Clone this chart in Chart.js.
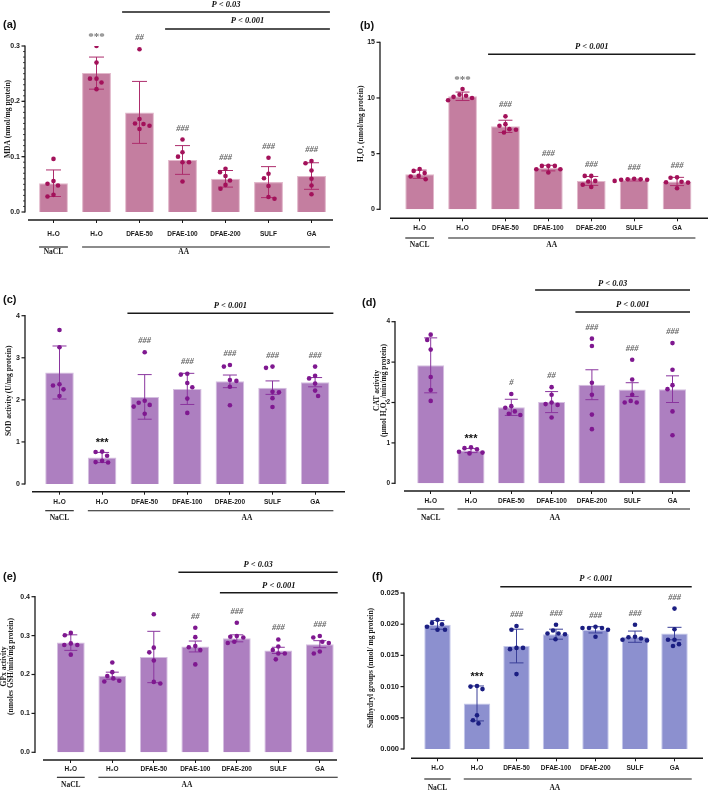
<!DOCTYPE html>
<html>
<head>
<meta charset="utf-8">
<script src="https://cdn.jsdelivr.net/npm/chart.js@4.4.0/dist/chart.umd.min.js"></script>
<style>
  html, body { margin: 0; padding: 0; background: #fff; }
  #fig { position: relative; width: 709px; height: 792px; }
  .panel { position: absolute; }
</style>
</head>
<body>
<div id="fig"></div>
<script>
// groups: NaCl + water, then AA-treated groups
const categories = ['H₂O', 'H₂O', 'DFAE-50', 'DFAE-100', 'DFAE-200', 'SULF', 'GA'];

// (a) MDA
const mdaTicks = [0, 0.1, 0.2, 0.3];
const mdaMean = [0.052, 0.251, 0.180, 0.094, 0.060, 0.054, 0.065];
const mdaSd = [0.024, 0.029, 0.056, 0.026, 0.015, 0.028, 0.024];
const mdaDots = [
  [0.056, 0.031, 0.051, 0.028, 0.048, 0.096],
  [0.300, 0.270, 0.241, 0.241, 0.234, 0.222],
  [0.294, 0.159, 0.168, 0.156, 0.160, 0.150],
  [0.131, 0.108, 0.100, 0.090, 0.090, 0.055],
  [0.078, 0.072, 0.065, 0.057, 0.049, 0.042],
  [0.098, 0.069, 0.061, 0.047, 0.027, 0.024],
  [0.092, 0.088, 0.075, 0.060, 0.048, 0.032]
];
const mdaSig = ['', '***', '##', '###', '###', '###', '###'];

// (b) H2O2
const h2o2Ticks = [0, 5, 10, 15];
const h2o2Mean = [3.15, 10.15, 7.45, 3.7, 2.55, 2.63, 2.5];
const h2o2Sd = [0.37, 0.38, 0.55, 0.25, 0.4, 0.08, 0.37];
const h2o2Dots = [
  [3.45, 3.0, 3.25, 2.95, 3.62, 2.7],
  [10.2, 10.1, 10.8, 10.3, 9.8, 10.0],
  [7.2, 7.15, 8.35, 7.5, 7.65, 6.9],
  [3.9, 3.9, 3.6, 3.9, 3.6, 3.3],
  [2.5, 3.0, 2.2, 3.0, 2.55, 2.0],
  [2.65, 2.65, 2.7, 2.7, 2.75, 2.55],
  [2.84, 2.87, 2.48, 2.43, 2.4, 1.89]
];
const h2o2Sig = ['', '***', '###', '###', '###', '###', '###'];

// (c) SOD
const sodTicks = [0, 1, 2, 3, 4];
const sodMean = [2.65, 0.63, 2.07, 2.26, 2.44, 2.29, 2.42];
const sodSd = [0.63, 0.12, 0.53, 0.37, 0.15, 0.16, 0.11];
const sodDots = [
  [3.66, 3.25, 2.37, 2.34, 2.25, 2.09],
  [0.76, 0.67, 0.77, 0.55, 0.52, 0.51],
  [3.13, 1.93, 1.98, 1.84, 1.88, 1.67],
  [2.6, 2.62, 2.4, 2.3, 2.03, 1.69],
  [2.79, 2.83, 2.47, 2.45, 2.31, 1.87],
  [2.76, 2.79, 2.19, 2.18, 2.04, 1.83],
  [2.79, 2.57, 2.51, 2.39, 2.22, 2.09]
];
const sodSig = ['', '***', '###', '###', '###', '###', '###'];

// (d) CAT
const catTicks = [0, 1, 2, 3, 4];
const catMean = [2.92, 0.81, 1.88, 2.01, 2.44, 2.32, 2.33];
const catSd = [0.68, 0.05, 0.2, 0.26, 0.37, 0.17, 0.33];
const catDots = [
  [3.68, 3.55, 3.31, 2.63, 2.31, 2.04],
  [0.87, 0.84, 0.89, 0.78, 0.76, 0.74],
  [2.21, 1.78, 1.91, 1.87, 1.72, 1.69],
  [2.0, 2.38, 2.19, 1.96, 1.94, 1.63],
  [3.58, 3.40, 2.49, 2.19, 1.70, 1.34],
  [3.06, 2.57, 2.19, 2.04, 2.0, 2.0],
  [3.47, 2.81, 2.43, 2.33, 1.78, 1.19]
];
const catSig = ['', '***', '#', '##', '###', '###', '###'];

// (e) GPx
const gpxTicks = [0, 0.1, 0.2, 0.3, 0.4];
const gpxMean = [0.282, 0.197, 0.245, 0.272, 0.293, 0.262, 0.278];
const gpxSd = [0.02, 0.009, 0.066, 0.014, 0.009, 0.008, 0.009];
const gpxDots = [
  [0.280, 0.301, 0.307, 0.276, 0.276, 0.251],
  [0.231, 0.196, 0.206, 0.190, 0.184, 0.182],
  [0.355, 0.269, 0.257, 0.236, 0.181, 0.177],
  [0.320, 0.296, 0.273, 0.270, 0.263, 0.226],
  [0.333, 0.299, 0.297, 0.295, 0.281, 0.284],
  [0.290, 0.263, 0.272, 0.254, 0.254, 0.239],
  [0.295, 0.299, 0.284, 0.281, 0.259, 0.254]
];
const gpxSig = ['', '', '', '##', '###', '###', '###'];

// (f) sulfhydryl groups
const shTicks = [0, 0.005, 0.010, 0.015, 0.020, 0.025];
const shMean = [0.0199, 0.0073, 0.0165, 0.0184, 0.0191, 0.0180, 0.0185];
const shSd = [0.0007, 0.0028, 0.0027, 0.0008, 0.0005, 0.0009, 0.0010];
const shDots = [
  [0.0202, 0.0200, 0.0196, 0.0191, 0.0191, 0.0207],
  [0.0100, 0.0096, 0.0101, 0.0054, 0.0046, 0.0041],
  [0.0197, 0.0191, 0.0162, 0.0162, 0.0160, 0.0120],
  [0.0199, 0.0190, 0.0185, 0.0184, 0.0185, 0.0176],
  [0.0196, 0.0194, 0.0194, 0.0194, 0.0191, 0.0180],
  [0.0199, 0.0179, 0.0177, 0.0175, 0.0174, 0.0180],
  [0.0225, 0.0192, 0.0175, 0.0175, 0.0168, 0.0165]
];
const shSig = ['', '***', '###', '###', '###', '###', '###'];

const pink = { bar: '#c47ea0', edge: '#e2b8cb', dot: '#a3115a', err: '#ad2d6c' };
const violet = { bar: '#ad7fc0', edge: '#d5bfe0', dot: '#7f1890', err: '#8a359e' };
const blue = { bar: '#8c90cf', edge: '#c4c7ea', dot: '#1b1e82', err: '#3a3f98' };

const SANS = '"Liberation Sans", Arial, sans-serif';
const SERIF = '"Liberation Serif", "Times New Roman", serif';
Chart.defaults.font.family = SANS;

const panels = [
  { key: 'a', left: 0, top: 0, w: 355, h: 265, theme: pink, greyStars: true,
    mean: mdaMean, sd: mdaSd, dots: mdaDots, sig: mdaSig, ticks: mdaTicks, fmt: v => v.toFixed(1), minor: 0.01,
    title: ['MDA (nmol/mg protein)'], titleX: 8, titleDy: -10, tickSize: 7,
    yAxisX: 25, topY: 46, zeroY: 212, xAxisY: 220, areaL: 32, areaR: 333, xAxis: [28, 333],
    labelY: 234, groupY: 247, groupTextY: 252, aaCat: 3.03, cap: 7.5,
    pLines: [{ text: 'P < 0.03', from: 2, textY: 5, lineY: 12 }, { text: 'P < 0.001', from: 3, textY: 21, lineY: 29 }],
    tag: [3, 25] },
  { key: 'b', left: 355, top: 0, w: 354, h: 265, theme: pink, greyStars: true,
    mean: h2o2Mean, sd: h2o2Sd, dots: h2o2Dots, sig: h2o2Sig, ticks: h2o2Ticks, fmt: v => String(v),
    title: ['H₂O₂ (nmol/mg protein)'], titleX: 6, titleDy: -2, tickSize: 7,
    yAxisX: 25, topY: 42.3, zeroY: 209.3, xAxisY: 218.3, areaL: 43.2, areaR: 343.5, xAxis: [35, 353],
    labelY: 228, groupY: 238, groupTextY: 245, aaCat: 3.08, cap: 7,
    pLines: [{ text: 'P < 0.001', from: 2, textY: 47, lineY: 54.3 }],
    tag: [5, 26] },
  { key: 'c', left: 0, top: 265, w: 355, h: 265, theme: violet, greyStars: false,
    mean: sodMean, sd: sodSd, dots: sodDots, sig: sodSig, ticks: sodTicks, fmt: v => String(v),
    title: ['SOD activity (U/mg protein)'], titleX: 9, titleDy: -9, tickSize: 7,
    yAxisX: 25, topY: 50.7, zeroY: 219, xAxisY: 226.7, areaL: 38.2, areaR: 336.4, xAxis: [32, 345],
    labelY: 237.7, groupY: 245.7, groupTextY: 253, aaCat: 4.4, cap: 7,
    pLines: [{ text: 'P < 0.001', from: 2, textY: 40.7, lineY: 48.3 }],
    tag: [3, 35] },
  { key: 'd', left: 355, top: 265, w: 354, h: 265, theme: violet, greyStars: false,
    mean: catMean, sd: catSd, dots: catDots, sig: catSig, ticks: catTicks, fmt: v => String(v),
    title: ['CAT activity', '(µmol H₂O₂ /min/mg protein)'], titleX: 26, titleDy: -12, tickSize: 6.5,
    yAxisX: 40, topY: 56.7, zeroY: 218.3, xAxisY: 226, areaL: 55.55, areaR: 337.65, xAxis: [49, 335],
    labelY: 236.3, groupY: 244, groupTextY: 253, aaCat: 3.08, cap: 6.5,
    pLines: [{ text: 'P < 0.03', from: 3, textY: 19, lineY: 25 }, { text: 'P < 0.001', from: 4, textY: 40, lineY: 47 }],
    tag: [7, 38] },
  { key: 'e', left: 0, top: 530, w: 355, h: 262, theme: violet, greyStars: false,
    mean: gpxMean, sd: gpxSd, dots: gpxDots, sig: gpxSig, ticks: gpxTicks, fmt: v => v.toFixed(1),
    title: ['GPx activity', '(nmoles GSH/min/mg protein)'], titleX: 8, titleDy: -8, tickSize: 7,
    yAxisX: 35, topY: 66.7, zeroY: 222.3, xAxisY: 230, areaL: 50.05, areaR: 340.55, xAxis: [43, 337],
    labelY: 239.3, groupY: 247.3, groupTextY: 255, aaCat: 2.8, cap: 6.5,
    pLines: [{ text: 'P < 0.03', from: 3, textY: 35, lineY: 42.3 }, { text: 'P < 0.001', from: 4, textY: 56, lineY: 62.7 }],
    tag: [3, 46.7] },
  { key: 'f', left: 355, top: 530, w: 354, h: 262, theme: blue, greyStars: false,
    mean: shMean, sd: shSd, dots: shDots, sig: shSig, ticks: shTicks, fmt: v => v.toFixed(3),
    title: ['Sulfhydryl groups (nmol/ mg protein)'], titleX: 16, titleDy: -3, tickSize: 7.5,
    yAxisX: 49, topY: 63, zeroY: 219, xAxisY: 228.3, areaL: 62.75, areaR: 339.25, xAxis: [56, 348],
    labelY: 238, groupY: 249, groupTextY: 257.7, aaCat: 2.97, cap: 7,
    pLines: [{ text: 'P < 0.001', from: 2, textY: 49, lineY: 56.7 }],
    tag: [17, 47.3] }
];

// simple beeswarm: offsets in category units so dots don't overlap
function swarm(vals, pxPerUnit, catPx, minDist) {
  const order = vals.map((v, i) => i).sort((a, b) => vals[b] - vals[a]);
  const placed = [];
  const out = [];
  let flip = -1;
  order.forEach(i => {
    const py = vals[i] * pxPerUnit;
    let px = 0;
    for (let s = 0; s < 60; s += 0.5) {
      const tries = s === 0 ? [0] : [flip * s, -flip * s];
      const ok = tries.find(c => placed.every(q => Math.hypot(q.x - c, q.y - py) >= minDist));
      if (ok !== undefined) { px = ok; break; }
    }
    if (px !== 0) flip = -Math.sign(px);
    placed.push({ x: px, y: py });
    out[i] = px / catPx;
  });
  return out;
}

function line(ctx, x0, y0, x1, y1, w) {
  ctx.lineWidth = w;
  ctx.beginPath();
  ctx.moveTo(x0, y0);
  ctx.lineTo(x1, y1);
  ctx.stroke();
}

function label(ctx, str, x, y, font, color, align, base) {
  ctx.font = font;
  ctx.fillStyle = color;
  ctx.textAlign = align || 'center';
  ctx.textBaseline = base || 'middle';
  ctx.fillText(str, x, y);
}

function makePlugin(p) {
  return {
    id: 'fig_' + p.key,
    afterDatasetDraw(chart, args) {
      if (args.index !== 0) return;
      const ctx = chart.ctx, ys = chart.scales.y;
      const bars = chart.getDatasetMeta(0).data;
      ctx.save();
      ctx.strokeStyle = p.theme.err;
      p.mean.forEach((m, i) => {
        const x = bars[i].x;
        const t = ys.getPixelForValue(m + p.sd[i]);
        const b = ys.getPixelForValue(m - p.sd[i]);
        line(ctx, x, t, x, b, 1);
        line(ctx, x - p.cap, t, x + p.cap, t, 1);
        line(ctx, x - p.cap, b, x + p.cap, b, 1);
      });
      ctx.restore();
    },
    afterDraw(chart) {
      const ctx = chart.ctx, ys = chart.scales.y, xl = chart.scales.xs, area = chart.chartArea;
      const bars = chart.getDatasetMeta(0).data;
      const half = bars[0].width / 2;
      const yMax = p.ticks[p.ticks.length - 1];
      ctx.save();
      ctx.strokeStyle = '#1a1a1a';

      // y axis with ticks
      const y0 = ys.getPixelForValue(0), y1 = ys.getPixelForValue(yMax);
      line(ctx, p.yAxisX, y0 + 0.6, p.yAxisX, y1 - 0.6, 1.3);
      p.ticks.forEach(v => {
        const yy = ys.getPixelForValue(v);
        line(ctx, p.yAxisX - 3.5, yy, p.yAxisX, yy, 1.2);
      });
      if (p.minor) {
        for (let k = 1; k * p.minor < yMax - 1e-9; k++) {
          const yy = ys.getPixelForValue(k * p.minor);
          line(ctx, p.yAxisX - 2, yy, p.yAxisX, yy, 0.8);
        }
      }

      // offset x axis
      line(ctx, p.xAxis[0], area.bottom, p.xAxis[1], area.bottom, 1.5);

      // y title
      ctx.save();
      ctx.translate(p.titleX, (y0 + y1) / 2 + p.titleDy);
      ctx.rotate(-Math.PI / 2);
      const n = p.title.length;
      p.title.forEach((t, k) => {
        label(ctx, t, 0, (k - (n - 1) / 2) * 7, 'bold 7.5px ' + SERIF, '#1a1a1a');
      });
      ctx.restore();

      // group brackets under the axis
      ctx.strokeStyle = '#1a1a1a';
      line(ctx, bars[0].x - half, p.groupY, bars[0].x + half, p.groupY, 1.1);
      line(ctx, bars[1].x - half, p.groupY, bars[6].x + half + 4, p.groupY, 1.1);
      label(ctx, 'NaCL', bars[0].x, p.groupTextY, 'bold 7.5px ' + SERIF, '#1a1a1a');
      label(ctx, 'AA', xl.getPixelForValue(p.aaCat), p.groupTextY, 'bold 7.5px ' + SERIF, '#1a1a1a');

      // P-value bars
      p.pLines.forEach(pl => {
        const x0 = bars[pl.from].x - half - 3;
        const x1 = bars[6].x + half + 4;
        line(ctx, x0, pl.lineY, x1, pl.lineY, 1.4);
        label(ctx, pl.text, (x0 + x1) / 2, pl.textY, 'italic bold 8.5px ' + SERIF, '#111');
      });

      // significance marks above each group
      p.sig.forEach((s, i) => {
        if (!s) return;
        const top = Math.max(Math.max(...p.dots[i]), p.mean[i] + p.sd[i]);
        const yc = ys.getPixelForValue(top) - 12;
        if (s[0] === '*') {
          if (p.greyStars) {
            label(ctx, s, bars[i].x, yc + 6, 'bold 11px ' + SERIF, '#777', 'center', 'alphabetic');
          } else {
            label(ctx, s, bars[i].x, yc + 6.5, 'bold 11px ' + SANS, '#111', 'center', 'alphabetic');
          }
        } else {
          label(ctx, s, bars[i].x, yc + 3, 'italic bold 8.5px ' + SERIF, '#666', 'center', 'alphabetic');
        }
      });

      // panel tag
      label(ctx, '(' + p.key + ')', p.tag[0], p.tag[1], 'bold 11px ' + SANS, '#111', 'left');
      ctx.restore();
    }
  };
}

const fig = document.getElementById('fig');

panels.forEach(p => {
  const box = document.createElement('div');
  box.className = 'panel';
  box.style.left = p.left + 'px';
  box.style.top = p.top + 'px';
  box.style.width = p.w + 'px';
  box.style.height = p.h + 'px';
  const cv = document.createElement('canvas');
  box.appendChild(cv);
  fig.appendChild(box);

  const yMax = p.ticks[p.ticks.length - 1];
  const pxPerUnit = (p.zeroY - p.topY) / yMax;
  const yMin = -(p.xAxisY - p.zeroY) / pxPerUnit;
  const catPx = (p.areaR - p.areaL) / categories.length;

  const points = [];
  p.dots.forEach((vals, i) => {
    const off = swarm(vals, pxPerUnit, catPx, 6.2);
    vals.forEach((v, j) => points.push({ x: i + off[j], y: v }));
  });

  const xLabelSize = 6.5;

  new Chart(cv, {
    type: 'bar',
    data: {
      labels: categories,
      datasets: [
        {
          type: 'bar',
          data: p.mean,
          backgroundColor: p.theme.bar,
          borderColor: p.theme.edge,
          borderWidth: 1,
          grouped: false,
          barPercentage: 0.67,
          categoryPercentage: 1,
          order: 2
        },
        {
          type: 'scatter',
          xAxisID: 'xs',
          data: points,
          pointRadius: 2.3,
          pointBackgroundColor: p.theme.dot,
          pointBorderWidth: 0,
          order: 1
        }
      ]
    },
    options: {
      responsive: true,
      maintainAspectRatio: false,
      animation: false,
      events: [],
      layout: { padding: { left: 0, top: p.topY, right: p.w - p.areaR, bottom: 0 } },
      plugins: { legend: { display: false }, tooltip: { enabled: false } },
      scales: {
        x: {
          type: 'category',
          offset: true,
          grid: { display: true, drawOnChartArea: false, drawTicks: true, tickLength: 3, offset: false, color: '#1a1a1a', lineWidth: 1 },
          border: { display: false },
          ticks: {
            autoSkip: false, maxRotation: 0, color: '#1a1a1a',
            font: { size: xLabelSize, weight: 'bold' },
            padding: p.labelY - p.xAxisY - 3 - xLabelSize * 1.2 / 2
          },
          afterFit: s => { s.height = p.h - p.xAxisY; }
        },
        xs: {
          type: 'linear', display: false, offset: false, bounds: 'data', grace: 0,
          min: -0.5, max: categories.length - 0.5,
          grid: { offset: false }
        },
        y: {
          min: yMin,
          max: yMax,
          afterBuildTicks: s => { s.ticks = p.ticks.map(v => ({ value: v })); },
          grid: { display: false, drawTicks: false },
          border: { display: false },
          ticks: {
            color: '#1a1a1a',
            font: { size: p.tickSize, weight: 'bold' },
            padding: p.areaL - (p.yAxisX - 5),
            callback: v => p.fmt(v)
          },
          afterFit: s => { s.width = p.areaL; }
        }
      }
    },
    plugins: [makePlugin(p)]
  });
});
</script>
</body>
</html>
